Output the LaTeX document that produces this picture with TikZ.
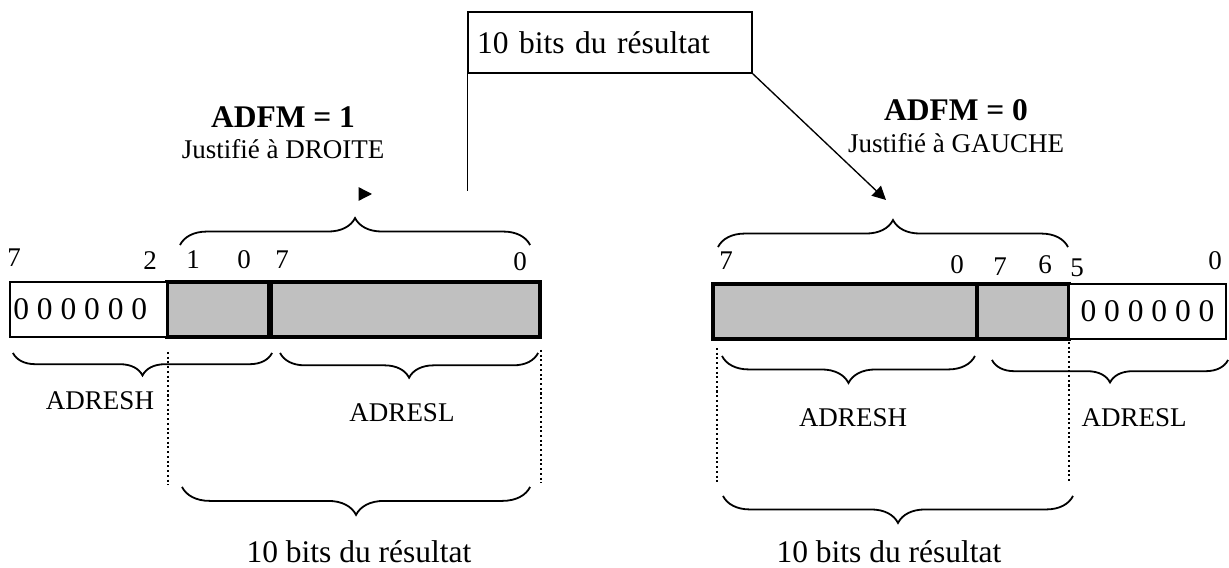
\documentclass[tikz,border=0pt]{standalone}
\usepackage{fontspec}
\setmainfont{Liberation Serif}
\usetikzlibrary{
  positioning,
  calc,
  arrows.meta,
  decorations.pathreplacing}
\newcommand\resfont{\fontsize{14}{16}\selectfont}
\newcommand\numfont{\fontsize{12}{14}\selectfont}
\definecolor{bitcolor}{RGB}{192,192,192}
\tikzset{
  %% resbox : the box holding the result
  resbox/.style={
    rectangle,
    draw=black,
    line width=0.7pt,
    minimum width=126.2pt,
    minimum height=27.1pt,
    inner xsep=4pt,
    text width=118.2pt,
    align=left,
    font=\resfont
  },
  %% bitcell : the bits that hold the result
  bitcell/.style={
    rectangle,
    draw=black,
    fill=bitcolor,
    line width=1.8pt,
    minimum height=24.4pt,
    outer sep=0pt
  },
  %% zerocell : the six bits left at zero
  zerocell/.style={
    rectangle,
    draw=black,
    fill=white,
    line width=0.9pt,
    minimum width=69.8pt,
    minimum height=24.4pt,
    inner xsep=1.5pt,
    text width=66.8pt,
    align=flush left,
    outer sep=0pt,
    font=\resfont
  },
  %% bitnum : number of a bit above the register
  bitnum/.style={
    anchor=base,
    inner sep=0pt,
    font=\numfont
  },
  %% regname : name of a register
  regname/.style={
    anchor=base,
    inner sep=0pt,
    font=\numfont
  },
  %% title : ADFM value
  title/.style={
    anchor=base,
    inner sep=0pt,
    font=\resfont\bfseries
  },
  %% subtitle : justification
  subtitle/.style={
    anchor=base,
    inner sep=0pt,
    font=\numfont
  },
  %% bottom text
  restext/.style={
    anchor=base,
    inner sep=0pt,
    font=\resfont
  },
  upbrace/.style={
    decorate,
    decoration={brace, amplitude=#1},
    line width=0.8pt
  },
  downbrace/.style={
    decorate,
    decoration={brace, mirror, amplitude=#1},
    line width=0.8pt
  },
  guide/.style={line width=0.9pt, dash pattern=on 0.9pt off 1.2pt},
  conn/.style={line width=0.6pt},
  arrow/.style={line width=0.6pt, -{Triangle[length=6pt, width=6pt]}},
  sepline/.style={line width=2.3pt}
}

\begin{document}
\begin{tikzpicture}
  [x=0.4444pt,
  y=-0.4444pt]

  \useasboundingbox (0,0) rectangle (1229,568);

  %% Result box
  \node (result) [resbox] at (610,42.5) {10 bits du résultat};
  \coordinate (resfoot) at ($(result.south west)+(0,117)$);
  \draw [conn] (result.south west) -- (resfoot);

  %% Right justified
  \node (adfmone) [title] at (283,128) {ADFM = 1};
  \node (droite) [subtitle] at (283,159) {Justifié à DROITE};
  \coordinate (tailone) at (368,194);
  \coordinate (headone) at (372,194);
  \draw [arrow] (tailone) -- (headone);

  \node (lhigh) [bitcell, minimum width=45.8pt, anchor=west] at (167,309.5) {};
  \node (llow) [bitcell, minimum width=120pt, right=0pt of lhigh] {};
  \node (lzero) [zerocell, left=0pt of lhigh] {0 0 0 0 0 0};
  \draw [sepline] (llow.north west) -- (llow.south west);

  \node (lnum7h) [bitnum] at (14,267) {7};
  \node (lnum2) [bitnum] at (150,270) {2};
  \node (lnum1) [bitnum] at (193,269) {1};
  \node (lnum0h) [bitnum] at (244,269) {0};
  \node (lnum7l) [bitnum] at (282,269) {7};
  \node (lnum0l) [bitnum] at (520,271) {0};

  \draw [upbrace=12pt] ($(lhigh.north west)+(13,-37)$)
  -- ($(llow.north east)+(-10,-37)$);
  \draw [downbrace=10pt] ($(lzero.south west)+(3,16)$)
  -- ($(lhigh.south east)+(2,16)$);
  \draw [downbrace=11pt] ($(llow.south west)+(10,16)$)
  -- ($(llow.south east)+(-2,16)$);
  \draw [downbrace=12.4pt] ($(lhigh.south west)+(15,150)$)
  -- ($(llow.south east)+(-10,150)$);

  \draw [guide] ($(lhigh.south west)+(1,15)$) -- ($(lhigh.south west)+(1,148)$);
  \draw [guide] ($(llow.south east)+(1,13)$) -- ($(llow.south east)+(1,146)$);

  \node (ladresh) [regname] at (100,410) {ADRESH};
  \node (ladresl) [regname] at (402,422) {ADRESL};
  \node (lresult) [restext] at (359,562) {10 bits du résultat};

  %% Left justified
  \node (adfmzero) [title] at (956,121) {ADFM = 0};
  \node (gauche) [subtitle] at (956,153) {Justifié à GAUCHE};
  \coordinate (headzero) at (886,200);
  \draw [arrow] (result.south east) -- (headzero);

  \node (rhigh) [bitcell, minimum width=117.3pt, anchor=west] at (713,311.5) {};
  \node (rlow) [bitcell, minimum width=40.9pt, right=0pt of rhigh] {};
  \node (rzero) [zerocell, align=flush center, right=0pt of rlow] {0 0 0 0 0 0};

  \node (rnum7h) [bitnum] at (726,270) {7};
  \node (rnum0h) [bitnum] at (957,274) {0};
  \node (rnum7l) [bitnum] at (1000,276) {7};
  \node (rnum6) [bitnum] at (1045,274) {6};
  \node (rnum5) [bitnum] at (1077,277) {5};
  \node (rnum0l) [bitnum] at (1215,270) {0};

  \draw [upbrace=12pt] ($(rhigh.north west)+(5,-37)$)
  -- ($(rlow.north east)+(-1,-37)$);
  \draw [downbrace=12pt] ($(rhigh.south west)+(9,17)$)
  -- ($(rhigh.south east)+(-2,17)$);
  \draw [downbrace=10pt] ($(rlow.south west)+(15,21)$)
  -- ($(rzero.south east)+(2,21)$);
  \draw [downbrace=12pt] ($(rhigh.south west)+(10,157)$)
  -- ($(rlow.south east)+(4,157)$);

  \draw [guide] ($(rhigh.south west)+(4,9)$) -- ($(rhigh.south west)+(4,143)$);
  \draw [guide] ($(rlow.south east)+(0,3)$) -- ($(rlow.south east)+(0,143)$);

  \node (radresh) [regname] at (853,427) {ADRESH};
  \node (radresl) [regname] at (1134,427) {ADRESL};
  \node (rresult) [restext] at (889,562) {10 bits du résultat};

\end{tikzpicture}
\end{document}
